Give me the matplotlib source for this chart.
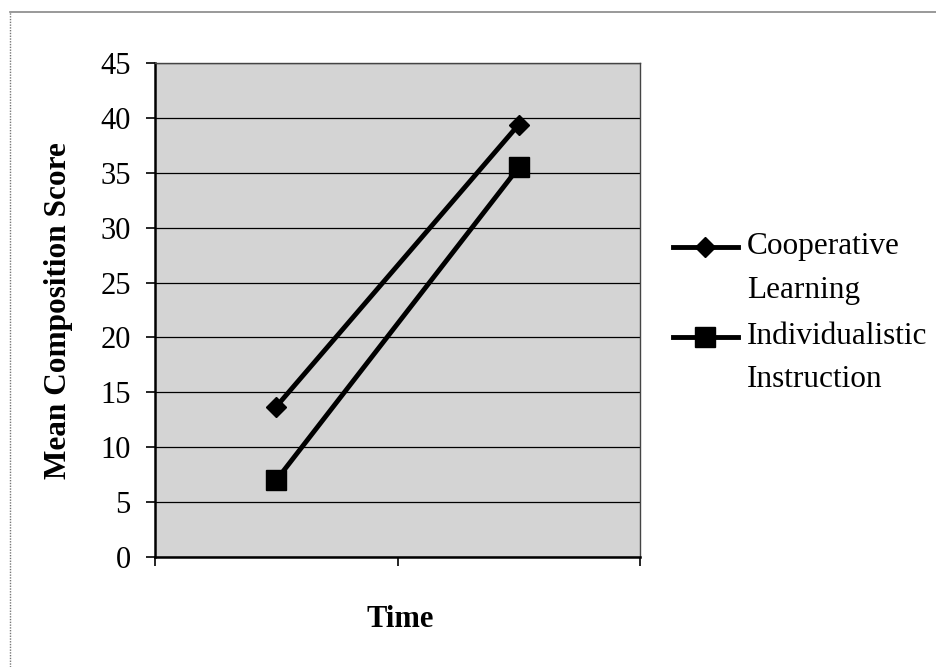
import matplotlib
matplotlib.use("Agg")
import matplotlib.pyplot as plt
from matplotlib.lines import Line2D

# Data
time_points = ["Time 1", "Time 2"]
coop_scores = [13.7, 39.4]
indiv_scores = [7.0, 35.5]
series_names = ["Cooperative\nLearning", "Individualistic\nInstruction"]
y_ticks = [0, 5, 10, 15, 20, 25, 30, 35, 40, 45]

plt.rcParams['font.family'] = ['Liberation Serif', 'DejaVu Serif']

fig = plt.figure(figsize=(9.36, 6.67), dpi=100)
ax = fig.add_axes([0.1656, 0.1649, 0.5182, 0.7406])
ax.set_facecolor('#d4d4d4')

xpos = [i + 0.5 for i in range(len(time_points))]
ax.plot(xpos, coop_scores, color='black', lw=3.5, marker='D', ms=10.5,
        mfc='black', mec='black', zorder=3)
ax.plot(xpos, indiv_scores, color='black', lw=3.5, marker='s', ms=15,
        mfc='black', mec='black', zorder=3)

ax.set_xlim(0, len(time_points))
ax.set_ylim(0, 45)
ax.set_yticks(y_ticks)
ax.set_xticks(range(len(time_points) + 1))
ax.set_xticklabels([])
ax.yaxis.grid(True, color='black', lw=0.9)
ax.set_axisbelow(True)
ax.tick_params(axis='both', direction='out', length=6.5, width=1.2,
               labelsize=22, colors='black', pad=11)
for side in ['left', 'bottom']:
    ax.spines[side].set_linewidth(1.8)
for side in ['top', 'right']:
    ax.spines[side].set_linewidth(1.0)
    ax.spines[side].set_color('#444444')

fig.text(0.063, 0.5349, 'Mean Composition Score', rotation=90, fontsize=22.5,
         fontweight='bold', ha='center', va='center')
fig.text(0.4272, 0.0705, 'Time', fontsize=22, fontweight='bold',
         ha='center', va='center')

# manual legend (handle aligned with first text line)
legend_y = [0.6297, 0.4948]
markers = [('D', 10.5), ('s', 15)]
for name, (mk, ms), y in zip(series_names, markers, legend_y):
    fig.add_artist(Line2D([0.719, 0.788], [y, y], color='black', lw=3.5,
                          transform=fig.transFigure))
    fig.add_artist(Line2D([0.7535], [y], marker=mk, ms=ms, color='black',
                          transform=fig.transFigure))
    first, second = name.split('\n')
    fig.text(0.798, y, first, fontsize=22.5, ha='left', va='center')
    fig.text(0.798, y - 0.0645, second, fontsize=22.5, ha='left', va='center')

# page border from the scan
fig.add_artist(Line2D([10 / 936, 10 / 936], [0, 1 - 12 / 667], color='#777777',
                      lw=1.0, ls=(0, (1, 1)), transform=fig.transFigure))
fig.add_artist(Line2D([10 / 936, 1], [1 - 12 / 667, 1 - 12 / 667],
                      color='#888888', lw=1.2, transform=fig.transFigure))

fig.savefig('out.png', dpi=100)
